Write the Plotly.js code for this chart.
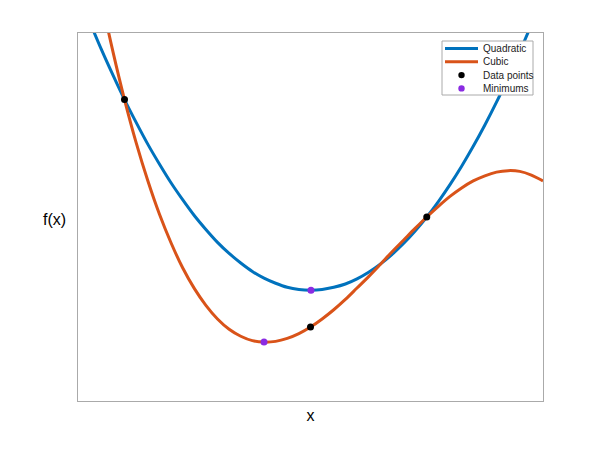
<!DOCTYPE html>
<html>
<head>
<meta charset="utf-8">
<script src="https://cdn.plot.ly/plotly-3.0.1.min.js"></script>
<style>html,body{margin:0;padding:0;background:#fff;}#chart{width:600px;height:450px;}</style>
</head>
<body>
<div id="chart"></div>
<script>
// Sample positions along x
const xs = [0,0.25,0.5,0.75,1,1.25,1.5,1.75,2,2.25,2.5,2.75,3,3.25,3.5,3.75,4,4.25,4.5,4.75,5,
            5.25,5.5,5.75,6,6.25,6.5,6.75,7,7.25,7.5,7.75,8,8.25,8.5,8.75,9,9.25,9.5,9.75,10];
// Quadratic curve values
const quadY = [11.09,10.31,9.56,8.86,8.19,7.57,6.98,6.44,5.93,5.47,5.04,4.66,4.31,4.01,3.75,3.52,3.34,3.20,3.09,3.03,3.01,
               3.03,3.09,3.18,3.32,3.50,3.72,3.98,4.28,4.62,5.00,5.42,5.88,6.38,6.92,7.50,8.12,8.79,9.49,10.23,11.01];
// Cubic curve values
const cubicY = [14.31,12.55,10.95,9.50,8.19,7.02,5.99,5.08,4.30,3.62,3.06,2.60,2.23,1.95,1.76,1.64,1.60,1.62,1.70,1.83,2.01,
                2.23,2.48,2.76,3.07,3.38,3.71,4.05,4.37,4.69,5.00,5.29,5.56,5.79,5.98,6.12,6.22,6.26,6.24,6.14,5.98];
// Data points
const dataX = [1, 5, 7.5];
const dataY = [8.19, 2.01, 5.0];
// Minimums
const minX = [5.01, 4.0];
const minY = [3.01, 1.60];
// Legend labels
const legendLabels = ['Quadratic', 'Cubic', 'Data points', 'Minimums'];

const BLUE = '#0072BD', ORANGE = '#D95319', BLACK = '#000000', PURPLE = '#8a2be2';

const traces = [
  {x: xs, y: quadY, mode: 'lines', name: legendLabels[0], line: {color: BLUE, width: 3, shape: 'spline'}},
  {x: xs, y: cubicY, mode: 'lines', name: legendLabels[1], line: {color: ORANGE, width: 3, shape: 'spline'}},
  {x: dataX, y: dataY, mode: 'markers', name: legendLabels[2], marker: {color: BLACK, size: 7}},
  {x: minX, y: minY, mode: 'markers', name: legendLabels[3], marker: {color: PURPLE, size: 7}}
];

// Compact legend box (drawn by hand so rows can be tighter than Plotly's minimum)
const M = {l: 78, r: 57, t: 33, b: 49};
const PW = 600 - M.l - M.r, PH = 450 - M.t - M.b;
const px = v => (v - M.l) / PW;
const py = v => (450 - M.b - v) / PH;
const box = {x0: 442, x1: 533, y0: 41, y1: 95};
const rowY = [48.5, 61.8, 75.1, 88.4];
const shapes = [
  {type: 'rect', xref: 'paper', yref: 'paper', x0: px(box.x0), x1: px(box.x1), y0: py(box.y1), y1: py(box.y0),
   fillcolor: '#ffffff', line: {color: '#aaaaaa', width: 1}, layer: 'above'}
];
const annotations = [
  {text: 'f(x)', xref: 'paper', yref: 'paper', x: px(68), y: py(219), xanchor: 'right', yanchor: 'middle',
   showarrow: false, font: {size: 16}}
];
traces.forEach((t, i) => {
  const yy = py(rowY[i]);
  if (t.mode === 'lines') {
    shapes.push({type: 'line', xref: 'paper', yref: 'paper', x0: px(445), x1: px(478), y0: yy, y1: yy,
                 line: {color: t.line.color, width: 3}, layer: 'above'});
  } else {
    shapes.push({type: 'circle', xref: 'paper', yref: 'paper', xsizemode: 'pixel', ysizemode: 'pixel',
                 xanchor: px(461.5), yanchor: yy, x0: -3.2, x1: 3.2, y0: -3.2, y1: 3.2,
                 fillcolor: t.marker.color, line: {width: 0}, layer: 'above'});
  }
  annotations.push({text: t.name, xref: 'paper', yref: 'paper', x: px(481), y: yy, xanchor: 'left', yanchor: 'middle',
                    showarrow: false, font: {size: 10, color: '#222'}});
});

const layout = {
  width: 600, height: 450,
  margin: M,
  paper_bgcolor: '#fff', plot_bgcolor: '#fff',
  font: {family: 'Liberation Sans, Arial, sans-serif', color: '#000'},
  showlegend: false,
  xaxis: {range: [0, 10], showticklabels: false, ticks: '', showgrid: false, zeroline: false,
          showline: true, mirror: true, linecolor: '#aaaaaa', linewidth: 1,
          title: {text: 'x', font: {size: 16}, standoff: 8}},
  yaxis: {range: [0, 10], showticklabels: false, ticks: '', showgrid: false, zeroline: false,
          showline: true, mirror: true, linecolor: '#aaaaaa', linewidth: 1},
  shapes: shapes,
  annotations: annotations
};

Plotly.newPlot('chart', traces, layout, {displayModeBar: false, staticPlot: true});
</script>
</body>
</html>
